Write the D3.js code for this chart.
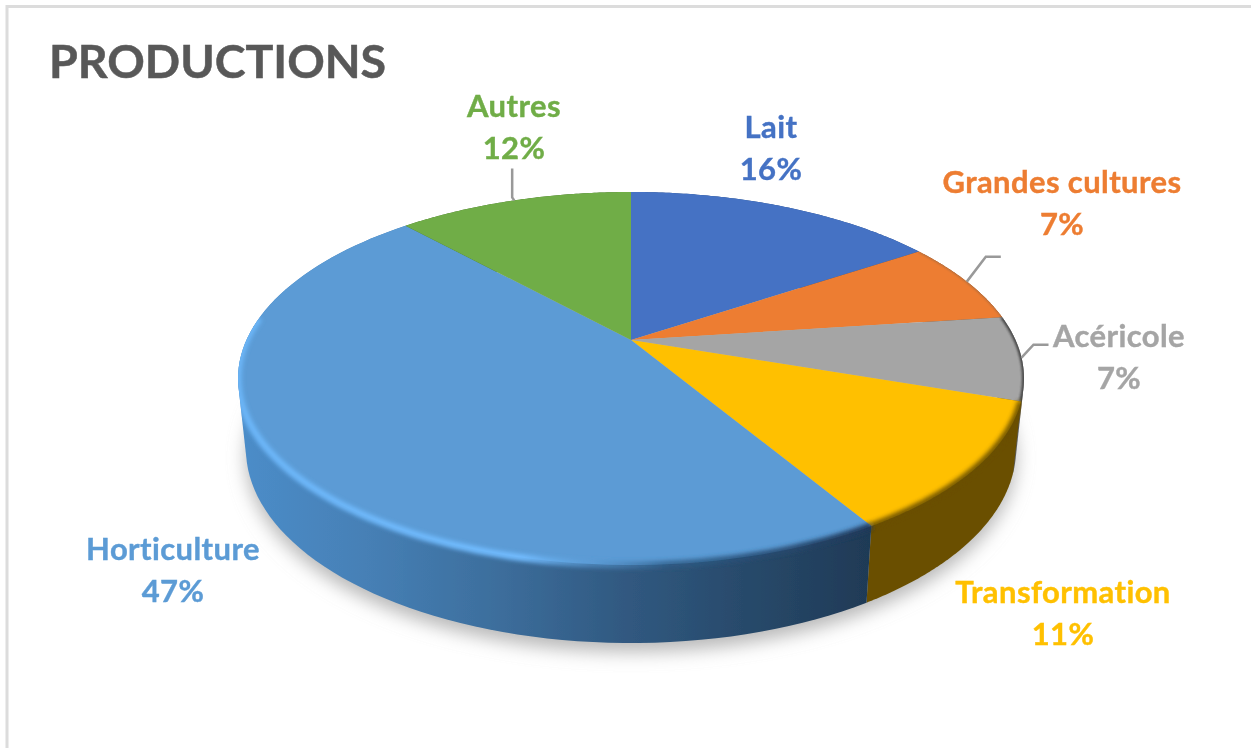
<!DOCTYPE html>
<html>
<head>
<meta charset="utf-8">
<script src="https://d3js.org/d3.v7.min.js"></script>
<style>
  body { margin: 0; background: #fff; }
  svg { display: block; }
  text { font-family: Lato, "Noto Sans", sans-serif; font-weight: 700; }
</style>
</head>
<body>
<svg id="chart" width="1251" height="748"></svg>

<script>
// Data
const categories = ["Lait", "Grandes cultures", "Acéricole", "Transformation", "Horticulture", "Autres"];
const values = [15.7, 7.2, 7.3, 11.2, 46.8, 11.8];
const colors = ["#4472c4", "#ed7d31", "#a5a5a5", "#ffc000", "#5b9bd5", "#70ad47"];
const wallColors = ["#2a4a80", "#8a4a1c", "#5a5a5a", "#6b5000", "url(#wallBlue)", "#436a2b"];
const title = "PRODUCTIONS";

// Layout of the labels (not data)
const labelCenter = [[771, 138], [1062, 193], [1119, 347], [1063, 603], [173, 560], [514, 117]];
const leaderBends = [null, [[19, -25], [34, -25]], [[12, -13], [27, -13]], null, null, [[-2, -3], [-2, -32]]];
const lineGap = 42;

// SVG Setup
const svg = d3.select("#chart");
const defs = svg.append("defs");
const layer = svg.append("g").attr("filter", "url(#soft)");

const blur = (id, dev) => defs.append("filter").attr("id", id)
    .attr("x", "-10%").attr("y", "-10%").attr("width", "120%").attr("height", "120%")
    .append("feGaussianBlur").attr("stdDeviation", dev);
blur("soft", 0.5);
blur("shadow", 9);
blur("rim", 2);
blur("edge", 1);

// Tilted disc: the perspective of the pie top
const apex = { x: 631, y: 340 };
const radius = 384.5, persp = -0.2064, tilt = 108.4;

function topPoint(angle) {
    const u = Math.sin(angle), v = -Math.cos(angle), d = 1 + persp * v;
    return [apex.x + radius * u / d, (apex.y + tilt * v) / d];
}
function bottomPoint(angle) {
    const p = topPoint(angle), v = -Math.cos(angle);
    return [apex.x + 0.98 * (p[0] - apex.x), p[1] + 68 + 10 * v];
}
const samples = (a0, a1, f) => d3.range(0, 91).map(i => f(a0 + (a1 - a0) * i / 90));
const line = d3.line();

const arcs = d3.pie().sort(null).value(d => d)(values);

// Wall of a slice, as a hull so the sides of the disc stay straight
const wallHull = d => d3.polygonHull(samples(d.startAngle, d.endAngle, topPoint)
    .concat(samples(d.endAngle, d.startAngle, bottomPoint)));

// Gradients
const wallBlue = defs.append("linearGradient").attr("id", "wallBlue")
    .attr("gradientUnits", "userSpaceOnUse")
    .attr("x1", 238).attr("x2", 870).attr("y1", 0).attr("y2", 0);
[[0, "#4c8dc9"], [0.2, "#4680b6"], [0.42, "#3c6d9b"], [0.6, "#315a82"], [0.8, "#284a6b"], [1, "#1f3a56"]]
    .forEach(s => wallBlue.append("stop").attr("offset", s[0]).attr("stop-color", s[1]));

const rimBlue = defs.append("linearGradient").attr("id", "rimBlue")
    .attr("gradientUnits", "userSpaceOnUse")
    .attr("x1", 238).attr("x2", 870).attr("y1", 0).attr("y2", 0);
[[0, "#6cb6f8", 1], [0.45, "#72bcff", 1], [0.56, "#5b9bd5", 0.6], [0.68, "#2f5d88", 0.8], [1, "#20395a", 1]]
    .forEach(s => rimBlue.append("stop").attr("offset", s[0]).attr("stop-color", s[1]).attr("stop-opacity", s[2]));

// Bevel stays inside the disc
const clip = defs.append("clipPath").attr("id", "discClip");
clip.append("path").attr("d", line(samples(0, 2 * Math.PI, topPoint)) + "Z");
arcs.forEach(d => clip.append("path").attr("d", line(wallHull(d)) + "Z"));

// Frame
svg.insert("path", "g")
    .attr("d", "M7,748V6.5H1251")
    .attr("fill", "none").attr("stroke", "#dcdcdc").attr("stroke-width", 3);

// Ground shadow
layer.append("path")
    .attr("d", line(samples(0, 2 * Math.PI, bottomPoint)) + "Z")
    .attr("transform", "translate(0,9)")
    .attr("fill", "#b8b8b8").attr("filter", "url(#shadow)");

// Walls
layer.selectAll("path.wall").data(arcs).join("path")
    .attr("class", "wall")
    .attr("d", d => line(wallHull(d)) + "Z")
    .attr("fill", (d, i) => wallColors[i]);

// Top face
layer.selectAll("path.slice").data(arcs).join("path")
    .attr("class", "slice")
    .attr("d", d => line([[apex.x, apex.y]].concat(samples(d.startAngle, d.endAngle, topPoint))) + "Z")
    .attr("fill", (d, i) => colors[i]);

// Soft bevel along the front rim
const rimStyle = [
    null,
    ["#555", 1.5, "edge", 0.5],
    ["#3c3c3c", 4, "edge", 0.9],
    ["#6b5000", 7, "rim", 0.9],
    ["url(#rimBlue)", 7, "rim", 1],
    null
];
layer.append("g").attr("clip-path", "url(#discClip)")
    .selectAll("path.rim").data(arcs.filter((d, i) => rimStyle[i])).join("path")
    .attr("class", "rim")
    .attr("d", d => {
        // the highlight fades out where the rim turns to the back
        const end = d.index === 4 ? 1.54 * Math.PI : d.endAngle;
        return line(samples(d.startAngle, end, topPoint));
    })
    .attr("fill", "none")
    .attr("stroke", d => rimStyle[d.index][0])
    .attr("stroke-width", d => rimStyle[d.index][1])
    .attr("filter", d => `url(#${rimStyle[d.index][2]})`)
    .attr("opacity", d => rimStyle[d.index][3]);

// Leader lines
layer.selectAll("path.leader").data(arcs.filter((d, i) => leaderBends[i])).join("path")
    .attr("class", "leader")
    .attr("d", d => {
        const p = topPoint((d.startAngle + d.endAngle) / 2);
        return line([p].concat(leaderBends[d.index].map(b => [p[0] + b[0], p[1] + b[1]])));
    })
    .attr("fill", "none").attr("stroke", "#999").attr("stroke-width", 2.5);

// Labels
const labels = layer.selectAll("g.label").data(arcs).join("g")
    .attr("class", "label")
    .attr("fill", (d, i) => colors[i])
    .attr("stroke", (d, i) => colors[i]).attr("stroke-width", 0.4)
    .attr("text-anchor", "middle")
    .attr("font-size", 31).attr("letter-spacing", 0.4);
labels.append("text")
    .attr("x", (d, i) => labelCenter[i][0]).attr("y", (d, i) => labelCenter[i][1])
    .text((d, i) => categories[i]);
labels.append("text")
    .attr("x", (d, i) => labelCenter[i][0]).attr("y", (d, i) => labelCenter[i][1] + lineGap)
    .text(d => Math.round(d.value) + "%");

// Title
layer.append("text")
    .attr("x", 49).attr("y", 78)
    .attr("fill", "#595959").attr("stroke", "#595959").attr("stroke-width", 0.5)
    .attr("font-size", 46.5)
    .text(title);
</script>
</body>
</html>
